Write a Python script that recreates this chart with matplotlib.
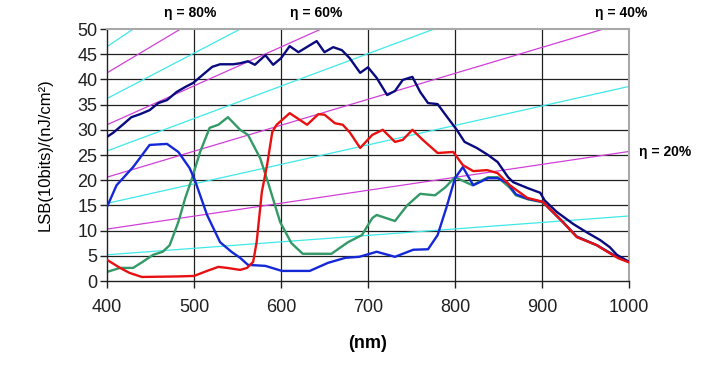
import matplotlib.pyplot as plt

plt.rcParams["font.family"] = ["Liberation Sans", "DejaVu Sans"]

# quantum efficiency reference lines: value at 400 nm and at 1000 nm
eta_levels = [10, 20, 30, 40, 50, 60, 70, 80, 90]
eta_at_400 = [5.2, 10.3, 15.4, 20.6, 25.8, 31.0, 36.2, 41.3, 46.5]
eta_at_1000 = [12.9, 25.7, 38.6, 51.5, 64.4, 77.3, 90.2, 103.0, 116.0]

navy_nm = [400, 407, 418, 428, 438, 449, 459, 469, 480, 490, 499, 510, 521, 530,
           545, 553, 562, 570, 582, 591, 600, 610, 620, 641, 650, 660, 670, 679,
           691, 700, 710, 722, 731, 740, 751, 760, 769, 780, 792, 802, 811, 825,
           838, 849, 861, 867, 884, 898, 903, 917, 936, 951, 967, 978, 986, 1000]
navy_val = [28.6, 29.4, 31.0, 32.5, 33.1, 33.9, 35.3, 35.9, 37.5, 38.5, 39.3, 40.9,
            42.5, 43.0, 43.0, 43.2, 43.6, 42.9, 44.8, 42.9, 44.2, 46.6, 45.4, 47.6,
            45.4, 46.4, 45.8, 44.2, 41.3, 42.4, 40.3, 36.9, 37.7, 39.9, 40.5, 37.5,
            35.3, 35.1, 32.3, 30.0, 27.6, 26.4, 25.0, 23.6, 20.6, 19.6, 18.4, 17.5,
            16.0, 13.7, 11.3, 9.7, 8.1, 6.7, 5.2, 3.8]

blue_nm = [400, 411, 430, 449, 469, 482, 495, 501, 515, 530, 543, 553, 562, 582,
           601, 633, 654, 674, 690, 702, 710, 731, 752, 769, 780, 790, 800, 809,
           821, 838, 849, 860, 870, 884, 901, 924, 940, 963, 988, 1000]
blue_val = [14.7, 19.0, 22.6, 27.0, 27.2, 25.6, 22.4, 20.0, 13.1, 7.7, 5.8, 4.6,
            3.2, 3.0, 2.0, 2.0, 3.6, 4.6, 4.8, 5.4, 5.8, 4.8, 6.2, 6.3, 9.1, 14.5,
            20.4, 22.6, 19.0, 20.4, 20.4, 19.5, 17.2, 16.3, 15.7, 11.7, 8.8, 7.1,
            4.6, 3.8]

green_nm = [400, 415, 430, 441, 453, 464, 472, 482, 490, 497, 507, 518, 528, 539,
            553, 562, 576, 585, 599, 612, 625, 658, 677, 693, 705, 710, 731, 745,
            760, 777, 789, 800, 820, 838, 849, 863, 870, 884, 901, 924, 940, 963,
            988, 1000]
green_val = [1.8, 2.6, 2.6, 3.8, 5.2, 5.8, 7.1, 11.7, 16.5, 20.0, 25.6, 30.4, 31.0,
             32.5, 30.0, 29.0, 24.4, 19.6, 11.7, 7.5, 5.4, 5.4, 7.7, 9.1, 12.5, 13.1,
             11.9, 15.0, 17.3, 17.0, 18.6, 20.6, 19.0, 20.6, 20.6, 18.5, 17.0, 16.2,
             15.6, 11.7, 8.8, 7.1, 4.6, 3.8]

red_nm = [400, 415, 426, 440, 480, 500, 515, 528, 538, 553, 561, 568, 572, 578,
          584, 590, 595, 610, 630, 643, 650, 662, 671, 679, 691, 705, 717, 731,
          740, 751, 763, 780, 798, 809, 821, 837, 849, 863, 883, 901, 924, 940,
          963, 975, 988, 1000]
red_val = [4.2, 2.6, 1.6, 0.8, 0.9, 1.0, 2.0, 2.8, 2.6, 2.2, 2.6, 3.8, 7.7, 17.7,
           23.0, 29.6, 31.0, 33.3, 31.0, 33.1, 33.0, 31.3, 31.0, 29.5, 26.4, 29.0,
           30.0, 27.6, 28.0, 30.0, 28.0, 25.4, 25.6, 23.0, 21.8, 22.0, 21.4, 19.0,
           16.5, 15.7, 11.7, 8.7, 7.1, 5.8, 4.5, 3.7]

x_ticks = [400, 500, 600, 700, 800, 900, 1000]
y_ticks = [0, 5, 10, 15, 20, 25, 30, 35, 40, 45, 50]

fig = plt.figure(figsize=(7.26, 3.73), dpi=100)
ax = fig.add_axes([107 / 726, 1 - 281 / 373, 522 / 726, 252 / 373])

for v in x_ticks[1:-1]:
    ax.axvline(v, color="#202020", linewidth=0.9, zorder=0.5)
for v in y_ticks[1:-1]:
    ax.axhline(v, color="#202020", linewidth=0.9, zorder=0.5)

for level, a, b in zip(eta_levels, eta_at_400, eta_at_1000):
    color = "#d040d8" if level % 20 == 0 else "#40e8e8"
    ax.plot([400, 1000], [a, b], color=color, linewidth=0.9, zorder=1)

ax.plot(green_nm, green_val, color="#339966", linewidth=1.7, zorder=2)
ax.plot(blue_nm, blue_val, color="#1428d8", linewidth=1.7, zorder=3)
ax.plot(navy_nm, navy_val, color="#0a0a80", linewidth=1.7, zorder=4)
ax.plot(red_nm, red_val, color="#e81010", linewidth=1.7, zorder=5)

ax.set_xlim(400, 1000)
ax.set_ylim(0, 50)
ax.set_xticks(x_ticks)
ax.set_yticks(y_ticks)
ax.tick_params(axis="both", direction="out", length=5, width=1,
               labelsize=13, colors="#202020")
ax.tick_params(axis="x", pad=8)
ax.tick_params(axis="y", pad=2)
for name in ["left", "bottom"]:
    ax.spines[name].set_color("#202020")
    ax.spines[name].set_linewidth(1)
for name in ["top", "right"]:
    ax.spines[name].set_color("#a8a8a8")
    ax.spines[name].set_linewidth(1.5)

fig.text(368 / 726, 1 - 343 / 373, "(nm)", ha="center", va="center",
         fontsize=13, fontweight="bold")
fig.text(45 / 726, 1 - 155 / 373, "LSB(10bits)/(nJ/cm²)", ha="center",
         va="center", rotation=90, fontsize=12)

eta_labels = ["η = 80%", "η = 60%", "η = 40%", "η = 20%"]
label_px = [(190, 13), (316, 13), (621, 13), (665, 152)]
for text, (px, py) in zip(eta_labels, label_px):
    fig.text(px / 726, 1 - py / 373, text, ha="center", va="center",
             fontsize=10, fontweight="bold")

fig.savefig("out.png", dpi=100)
